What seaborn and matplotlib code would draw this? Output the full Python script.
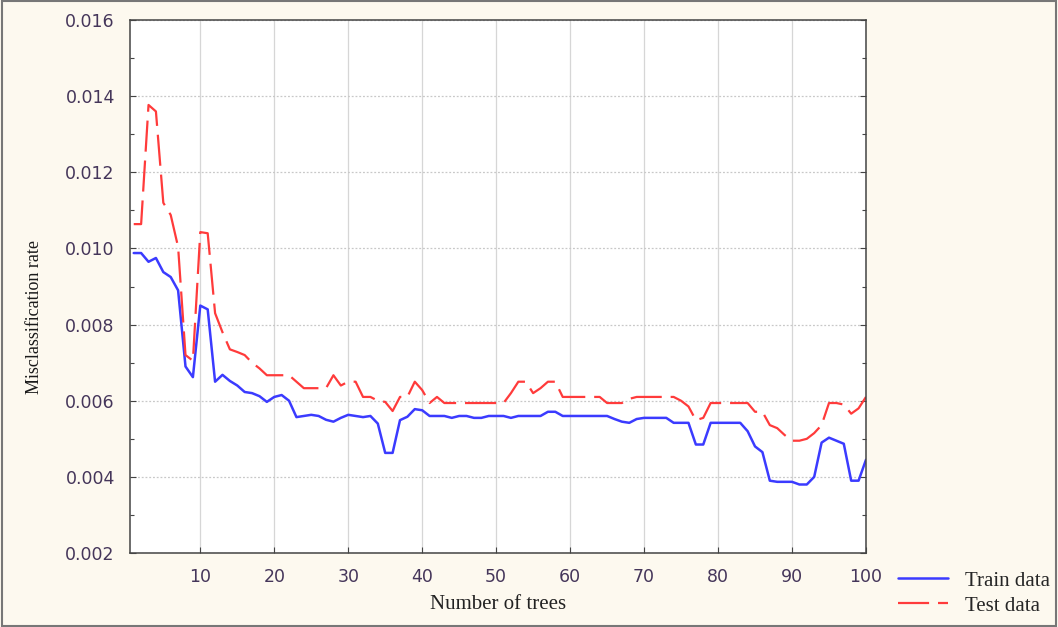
import numpy as np
import pandas as pd
import matplotlib
matplotlib.use("Agg")
import matplotlib.pyplot as plt
from matplotlib.ticker import MultipleLocator
import seaborn as sns

trees = list(range(1, 101))

train_rate = [
    0.00988, 0.00988, 0.00965, 0.00975, 0.00938, 0.00925, 0.00890, 0.00690, 0.00662, 0.00850,
    0.00840, 0.00650, 0.00668, 0.00652, 0.00640, 0.00623, 0.00620, 0.00612, 0.00597, 0.00610,
    0.00615, 0.00600, 0.00557, 0.00560, 0.00563, 0.00560, 0.00550, 0.00545, 0.00555, 0.00563,
    0.00560, 0.00557, 0.00560, 0.00540, 0.00463, 0.00463, 0.00549, 0.00558, 0.00578, 0.00575,
    0.00560, 0.00560, 0.00560, 0.00555, 0.00560, 0.00560, 0.00555, 0.00555, 0.00560, 0.00560,
    0.00560, 0.00555, 0.00560, 0.00560, 0.00560, 0.00560, 0.00571, 0.00571, 0.00560, 0.00560,
    0.00560, 0.00560, 0.00560, 0.00560, 0.00560, 0.00552, 0.00545, 0.00542, 0.00552, 0.00555,
    0.00555, 0.00555, 0.00555, 0.00542, 0.00542, 0.00542, 0.00485, 0.00485, 0.00542, 0.00542,
    0.00542, 0.00542, 0.00542, 0.00520, 0.00480, 0.00465, 0.00390, 0.00387, 0.00387, 0.00387,
    0.00380, 0.00380, 0.00400, 0.00490, 0.00503, 0.00495, 0.00487, 0.00390, 0.00390, 0.00445,
]

test_rate = [
    0.01064, 0.01064, 0.01377, 0.01360, 0.01120, 0.01088, 0.01004, 0.00720, 0.00705, 0.01043,
    0.01040, 0.00830, 0.00780, 0.00735, 0.00728, 0.00720, 0.00700, 0.00685, 0.00667, 0.00667,
    0.00667, 0.00667, 0.00650, 0.00633, 0.00633, 0.00633, 0.00633, 0.00667, 0.00640, 0.00650,
    0.00650, 0.00610, 0.00610, 0.00600, 0.00597, 0.00573, 0.00610, 0.00610, 0.00650, 0.00628,
    0.00594, 0.00610, 0.00594, 0.00594, 0.00594, 0.00594, 0.00594, 0.00594, 0.00594, 0.00594,
    0.00594, 0.00620, 0.00650, 0.00650, 0.00620, 0.00633, 0.00650, 0.00650, 0.00610, 0.00610,
    0.00610, 0.00610, 0.00610, 0.00610, 0.00594, 0.00594, 0.00594, 0.00605, 0.00610, 0.00610,
    0.00610, 0.00610, 0.00610, 0.00610, 0.00600, 0.00585, 0.00549, 0.00555, 0.00594, 0.00594,
    0.00594, 0.00594, 0.00594, 0.00594, 0.00571, 0.00571, 0.00536, 0.00528, 0.00510, 0.00495,
    0.00495, 0.00500, 0.00515, 0.00536, 0.00594, 0.00594, 0.00590, 0.00566, 0.00580, 0.00610,
]

sns.set_theme(style="white")
plt.rcParams['font.family'] = ['DejaVu Sans']

bg = '#fdf9ef'
fig = plt.figure(figsize=(10.58, 6.27), dpi=100, facecolor=bg)
ax = fig.add_axes([0.1229, 0.118, 0.6956, 0.850])
ax.set_facecolor('white')

sns.lineplot(x=trees, y=train_rate, ax=ax, color='#3b3bff', linewidth=1.8,
             label='Train data')
sns.lineplot(x=trees, y=test_rate, ax=ax, color='#ff3b3b', linewidth=1.6,
             linestyle=(0, (14, 4)), label='Test data')

ax.set_xlim(0.5, 100)
ax.set_ylim(0.002, 0.016)
ax.set_xticks(range(10, 101, 10))
ax.yaxis.set_major_locator(MultipleLocator(0.002))
ax.yaxis.set_minor_locator(MultipleLocator(0.001))
ax.set_yticklabels([f'{v:.3f}' for v in ax.get_yticks()])

ax.grid(axis='y', which='major', color='#c8c8c8', linestyle=(0, (1.5, 1.5)), linewidth=0.9)
ax.grid(axis='x', which='major', color='#d6d6d6', linestyle='-', linewidth=0.9)

ax.tick_params(axis='both', which='both', direction='in', length=4, width=0.8,
               color='#444444', labelsize=12.5, labelcolor='#45365a',
               right=True, top=False, left=True, bottom=True)
ax.tick_params(axis='y', which='minor', length=3)
ax.tick_params(axis='y', which='major', pad=11)
ax.tick_params(axis='x', which='major', pad=11)

for s in ax.spines.values():
    s.set_color('#444444')
    s.set_linewidth(1.1)

ax.set_xlabel('Number of trees', family=['Liberation Serif'], fontsize=15,
              color='#222222', labelpad=6)
ax.set_ylabel('Misclassification rate', family=['Liberation Serif'], fontsize=13,
              color='#1a1a1a')
ax.yaxis.set_label_coords(-0.118, 0.443)

ax.legend_.remove()
handles, labels = ax.get_legend_handles_labels()
fig.legend(handles, labels, loc='lower left', bbox_to_anchor=(0.835, -0.005),
           frameon=False, prop={'family': 'Liberation Serif', 'size': 15},
           handlelength=2.4, handletextpad=0.8, labelspacing=0.25, borderaxespad=0.3)

fig.patches.append(plt.Rectangle((0.002, 0.002), 0.996, 0.996, transform=fig.transFigure,
                                 fill=False, edgecolor='#777777', linewidth=1.5))

fig.savefig('out.png', dpi=100, facecolor=bg)
